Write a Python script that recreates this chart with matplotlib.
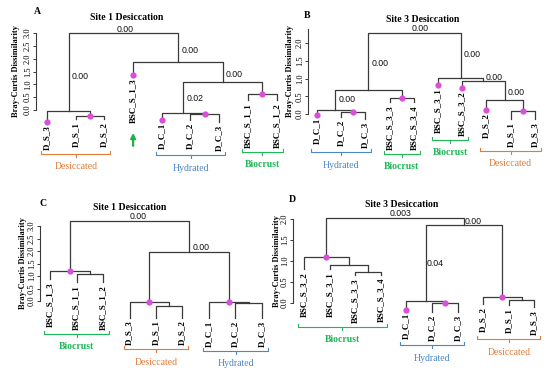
import numpy as np
import matplotlib
matplotlib.use("Agg")
import matplotlib.pyplot as plt
from matplotlib.lines import Line2D
from matplotlib.transforms import IdentityTransform, offset_copy

W, H = 550, 375
SERIF = "Liberation Serif"
SANS = "Liberation Sans"
LINE = "#3a3a3a"
DOT = "#d94fd9"
GROUP_COLORS = {"Desiccated": "#e07b39", "Hydrated": "#4a86c8", "Biocrust": "#1eb858"}

# ---- data: trees as (left, right, height), leaf tips, highlighted nodes, groups ----
tree_a = (("D_S_3", ("D_S_1", "D_S_2", -0.23), -0.04),
          ("BSC_S_1_3", (("D_C_1", ("D_C_2", "D_C_3", -0.16), -0.12),
                         ("BSC_S_1_1", "BSC_S_1_2", 0.62), 1.09), 1.87),
          3.0)
tips_a = [-0.47, -0.35, -0.35, 1.36, -0.39, -0.39, -0.47, 0.39, 0.39]
dots_a = ["D_S_3", ("D_S_1", "D_S_2"), "BSC_S_1_3", "D_C_1",
          ("D_C_2", "D_C_3"), ("BSC_S_1_1", "BSC_S_1_2")]
groups_a = [("Desiccated", 0, 2), ("Hydrated", 4, 6), ("Biocrust", 7, 8)]
pvals_a = ["0.00", "0.00", "0.00", "0.00", "0.02"]

tree_b = ((("D_C_1", ("D_C_2", "D_C_3", 0.06), 0.11),
           ("BSC_S_3_3", "BSC_S_3_4", 0.45), 0.68),
          ("BSC_S_3_1", ("BSC_S_3_2", ("D_S_2", ("D_S_1", "D_S_3", 0.08), 0.40), 0.93), 1.02),
          2.29)
tips_b = [-0.03, -0.08, -0.14, 0.34, 0.34, 0.82, 0.74, 0.11, -0.14, -0.14]
dots_b = ["D_C_1", ("D_C_2", "D_C_3"), ("BSC_S_3_3", "BSC_S_3_4"),
          "BSC_S_3_1", "BSC_S_3_2", "D_S_2", ("D_S_1", "D_S_3")]
groups_b = [("Hydrated", 0, 2), ("Biocrust", 3, 4), ("Biocrust", 5, 6), ("Desiccated", 7, 9)]
pvals_b = ["0.00", "0.00", "0.00", "0.00", "0.00", "0.00"]

tree_c = (("BSC_S_1_3", ("BSC_S_1_1", "BSC_S_1_2", 1.08), 1.20),
          (("D_S_3", ("D_S_1", "D_S_2", -0.20), -0.04),
           ("D_C_1", ("D_C_2", "D_C_3", -0.08), -0.04), 1.96),
          3.2)
tips_c = [0.88, 0.76, 0.76, -0.66, -0.66, -0.66, -0.66, -0.66, -0.66]
dots_c = [("BSC_S_1_3", "BSC_S_1_1", "BSC_S_1_2"), ("D_S_3", "D_S_1", "D_S_2"),
          ("D_C_1", "D_C_2", "D_C_3")]
groups_c = [("Biocrust", 0, 2), ("Desiccated", 3, 5), ("Hydrated", 6, 8)]
pvals_c = ["0.00", "0.00"]

tree_d = (("BSC_S_3_2", ("BSC_S_3_1", ("BSC_S_3_3", "BSC_S_3_4", 0.74), 0.90), 1.10),
          (("D_C_1", ("D_C_2", "D_C_3", 0.0), 0.04),
           ("D_S_2", ("D_S_1", "D_S_3", 0.07), 0.14), 1.86),
          2.02)
tips_d = [0.81, 0.81, 0.67, 0.67, -0.17, -0.21, -0.21, -0.02, -0.05, -0.10]
dots_d = [("BSC_S_3_2", "BSC_S_3_1", "BSC_S_3_3", "BSC_S_3_4"), "D_C_1",
          ("D_C_2", "D_C_3"), ("D_S_2", "D_S_1", "D_S_3")]
groups_d = [("Biocrust", 0, 3), ("Hydrated", 4, 6), ("Desiccated", 7, 9)]
pvals_d = ["0.003", "0.00", "0.04"]

# ---- layout (pixels of the 550x375 picture) ----
panels = [
    dict(tree=tree_a, tips=tips_a, dots=dots_a, groups=groups_a, pvals=pvals_a,
         letter="A", title="Site 1 Desiccation", spine=36, y0=110, top=33, ymax=3.0, tmax=3.0,
         first=47, step=28.7, right=285, ylab_x=16, letter_xy=(37, 12), title_xy=(127, 18),
         pval_xy=[(2.44, 3.15), (4.70, 2.33), (0.87, 1.32), (6.24, 1.40), (4.88, 0.43)],
         arrow=3),
    dict(tree=tree_b, tips=tips_b, dots=dots_b, groups=groups_b, pvals=pvals_b,
         letter="B", title="Site 3 Desiccation", spine=308, y0=114, top=29, ymax=2.4, tmax=2.0,
         first=317, step=24.2, right=545, ylab_x=290, letter_xy=(307, 16), title_xy=(423, 19),
         pval_xy=[(3.93, 2.41), (6.07, 1.67), (2.27, 1.44), (0.91, 0.42), (6.98, 1.02), (7.89, 0.62)],
         arrow=None),
    dict(tree=tree_c, tips=tips_c, dots=dots_c, groups=groups_c, pvals=pvals_c,
         letter="C", title="Site 1 Desiccation", spine=40, y0=301, top=226, ymax=3.0, tmax=3.0,
         first=50, step=26.5, right=272, ylab_x=23, letter_xy=(43, 203), title_xy=(130, 208),
         pval_xy=[(3.02, 3.36), (5.40, 2.12)], arrow=None),
    dict(tree=tree_d, tips=tips_d, dots=dots_d, groups=groups_d, pvals=pvals_d,
         letter="D", title="Site 3 Desiccation", spine=293, y0=303, top=219, ymax=2.0, tmax=2.0,
         first=304, step=25.6, right=545, ylab_x=277, letter_xy=(292, 200), title_xy=(402, 204),
         pval_xy=[(3.36, 2.12), (6.29, 1.95), (4.80, 0.95)], arrow=None),
]


def leaves_of(node):
    if isinstance(node, str):
        return [node]
    return leaves_of(node[0]) + leaves_of(node[1])


def draw_tree(ax, node, pos, tip, nodes):
    if isinstance(node, str):
        nodes[node] = (pos[node], tip[node])
        return nodes[node]
    left, right, h = node
    xl, yl = draw_tree(ax, left, pos, tip, nodes)
    xr, yr = draw_tree(ax, right, pos, tip, nodes)
    ax.plot([xl, xl, xr, xr], [yl, h, h, yr], color=LINE, lw=0.9, clip_on=False)
    xm = (xl + xr) / 2
    nodes[tuple(leaves_of(node))] = (xm, h)
    return xm, h


fig = plt.figure(figsize=(W / 100, H / 100), dpi=100)
fig.patch.set_facecolor("white")

all_labels = []
for p in panels:
    aw = p["right"] - p["spine"]
    ax = fig.add_axes([p["spine"] / W, 1 - p["y0"] / H, aw / W, (p["y0"] - p["top"]) / H])
    ax.set_xlim((p["spine"] - p["first"]) / p["step"], (p["right"] - p["first"]) / p["step"])
    ax.set_ylim(0, p["ymax"])
    ax.patch.set_alpha(0)
    for s in ["top", "right", "bottom"]:
        ax.spines[s].set_visible(False)
    ax.spines["left"].set_linewidth(0.8)
    ax.spines["left"].set_color(LINE)
    ax.set_xticks([])
    ticks = np.arange(0, p["tmax"] + 0.01, 0.5)
    ax.set_yticks(ticks)
    ax.set_yticklabels([f"{t:.1f}" for t in ticks], rotation=90, va="center",
                       fontsize=6, family=SERIF)
    ax.tick_params(axis="y", length=2.5, width=0.7, pad=0.5, color=LINE)
    ax.set_ylabel("Bray-Curtis Dissimilarity", fontsize=6, fontweight="bold",
                  family=SERIF, va="center")
    ax.yaxis.set_label_coords((p["ylab_x"] - p["spine"]) / aw, 0.5)

    leaves = leaves_of(p["tree"])
    pos = {name: i for i, name in enumerate(leaves)}
    tip = dict(zip(leaves, p["tips"]))
    nodes = {}
    draw_tree(ax, p["tree"], pos, tip, nodes)

    for key in p["dots"]:
        x, y = nodes[key]
        ax.plot(x, y, "o", color=DOT, ms=4.5, mec="none", clip_on=False, zorder=5)

    down = offset_copy(ax.transData, fig=fig, y=-3, units="dots")
    texts = []
    for name in leaves:
        t = ax.text(pos[name], tip[name], name, rotation=90, ha="center", va="top",
                    fontsize=6.4, fontweight="bold", family=SERIF, transform=down)
        texts.append(t)
    all_labels.append(texts)

    for txt, (x, y) in zip(p["pvals"], p["pval_xy"]):
        ax.text(x, y, txt, ha="left", va="center", fontsize=6.3, family=SANS, color="#111111")

    fig.text(p["letter_xy"][0] / W, 1 - p["letter_xy"][1] / H, p["letter"],
             ha="center", va="center", fontsize=7, fontweight="bold", family=SERIF)
    fig.text(p["title_xy"][0] / W, 1 - p["title_xy"][1] / H, p["title"],
             ha="center", va="center", fontsize=7, fontweight="bold", family=SERIF)

# group brackets under the leaf labels
fig.canvas.draw()
r = fig.canvas.get_renderer()
for p, texts in zip(panels, all_labels):
    for name, i0, i1 in p["groups"]:
        bbs = [texts[i].get_window_extent(r) for i in range(i0, i1 + 1)]
        x0 = min(b.x0 for b in bbs) - 2
        x1 = max(b.x1 for b in bbs) + 2
        yb = min(b.y0 for b in bbs) - 4
        col = GROUP_COLORS[name]
        xm = (x0 + x1) / 2
        fig.add_artist(Line2D([x0, x0, x1, x1], [yb + 3, yb, yb, yb + 3], color=col,
                              lw=0.8, transform=IdentityTransform()))
        fig.add_artist(Line2D([xm, xm], [yb, yb - 3], color=col, lw=0.8,
                              transform=IdentityTransform()))
        fig.text(xm / W, (yb - 13) / H, name, ha="center", va="center", color=col,
                 fontsize=7, family=SERIF,
                 fontweight="bold" if name == "Biocrust" else "normal")
    if p["arrow"] is not None:
        b = texts[p["arrow"]].get_window_extent(r)
        xa = (b.x0 + b.x1) / 2
        fig.axes[0].annotate("", xy=(xa, b.y0 - 10), xycoords="figure pixels",
                             xytext=(xa, b.y0 - 23), textcoords="figure pixels",
                             arrowprops=dict(arrowstyle="-|>", color="#1db14b", lw=1.6,
                                             mutation_scale=7, shrinkA=0, shrinkB=0))

fig.savefig("out.png", dpi=100, facecolor="white")
